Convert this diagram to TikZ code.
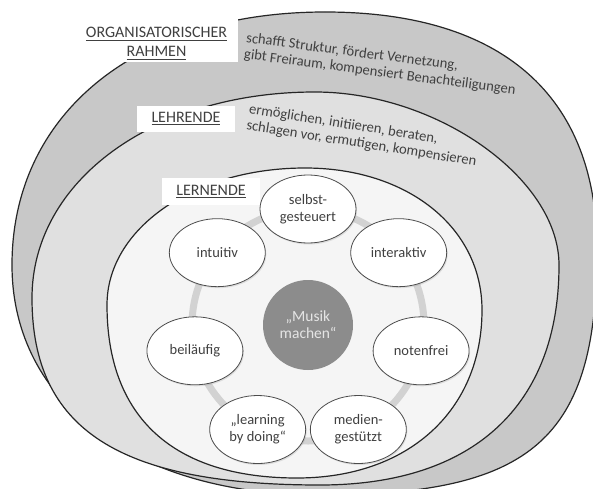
\documentclass[tikz,border=0pt]{standalone}
\usepackage{fontspec}
\setmainfont{Carlito}
\usetikzlibrary{shapes.geometric, shadows}
\definecolor{RimGray}{RGB}{200,200,200}
\definecolor{MidGray}{RGB}{224,224,224}
\definecolor{CoreGray}{RGB}{245,245,245}
\definecolor{RingGray}{RGB}{210,210,210}
\definecolor{HubGray}{RGB}{140,140,140}
\definecolor{InkGray}{RGB}{64,64,64}
% underlined title word
\newcommand{\uword}[1]{\leavevmode\vtop{\hbox{#1}\kern1.6pt\hrule height 0.9pt}}

\begin{document}
\begin{tikzpicture}[x=1pt, y=1pt,
		layer/.style={draw=black!85, line width=1.2pt},
		tag/.style={fill=white, text=InkGray, align=center, inner sep=0pt, font=\fontsize{16}{19}\selectfont},
		verbs/.style={text=InkGray, align=left, anchor=north west, inner sep=0pt, font=\fontsize{14.6}{16.5}\selectfont},
		trait/.style={ellipse, draw=black!70, line width=0.8pt, fill=white, minimum width=96pt, minimum height=68pt, inner sep=0pt, align=center, text=InkGray, font=\fontsize{14.5}{17}\selectfont, drop shadow={opacity=0.2, shadow xshift=1pt, shadow yshift=-1.5pt}},
		hub/.style={circle, fill=HubGray, minimum size=90pt, inner sep=0pt, align=center, text=white!90!black, font=\fontsize{15.5}{17}\selectfont}]
	\useasboundingbox (0,0) rectangle (593,488);
	\fill[white] (0,0) rectangle (593,488);

	% nested layers, top -> right -> bottom -> left
	\draw[layer, fill=RimGray] (325,476) .. controls (501.8,476) and (597,392.7) .. (597,238)
		.. controls (597,49.3) and (533.3,-7) .. (320,-7)
		.. controls (135.2,-7) and (12,85) .. (12,223)
		.. controls (12,374.8) and (137.2,476) .. (325,476) -- cycle;
	\draw[layer, fill=MidGray] (315,396) .. controls (437,396) and (559,309.5) .. (559,223)
		.. controls (559,82.2) and (473,3) .. (320,3)
		.. controls (118.4,3) and (32,59.1) .. (32,190)
		.. controls (32,307.4) and (153.7,396) .. (315,396) -- cycle;
	\draw[layer, fill=CoreGray] (305,320) .. controls (407.7,320) and (482,260.4) .. (482,178)
		.. controls (482,77.2) and (408,10) .. (297,10)
		.. controls (173.5,10) and (107,70.5) .. (107,183)
		.. controls (107,259.7) and (194.1,320) .. (305,320) -- cycle;

	% layer titles
	\fill[white] (75,426) rectangle (238,478);
	\node[tag, fill=none] (rahmen) at (156.5,444.5) {\uword{ORGANISATORISCHER}\\\uword{RAHMEN}};
	\node[tag, minimum width=98pt, minimum height=26pt] (lehrende) at (186,369) {\uword{LEHRENDE}};
	\node[tag, minimum width=98pt, minimum height=27pt] (lernende) at (211,296.5) {\uword{LERNENDE}};

	\node[verbs, rotate=-7.5] (rahmentext) at (247,456) {schafft Struktur, fördert Vernetzung,\\gibt Freiraum, kompensiert Benachteiligungen};
	\node[verbs, rotate=-9] (lehrtext) at (250,385) {ermöglichen, initiieren, beraten,\\schlagen vor, ermutigen, kompensieren};

	% ring of learner traits
	\draw[RingGray, line width=7pt] (308,163) circle [radius=116];
	\node[hub] (musik) at (308,163) {„Musik\\machen“};
	\begin{scope}[shift={(308,163)}]
		\foreach \name/\txt [count=\i from 0] in {selbst/{selbst-\\gesteuert}, intuitiv/intuitiv, beilaeufig/beiläufig,
				learning/{„learning\\by doing“}, medien/{medien-\\gestützt}, notenfrei/notenfrei, interaktiv/interaktiv}
			\node[trait] (\name) at ({90+\i*360/7}:116) {\txt};
	\end{scope}
\end{tikzpicture}
\end{document}
